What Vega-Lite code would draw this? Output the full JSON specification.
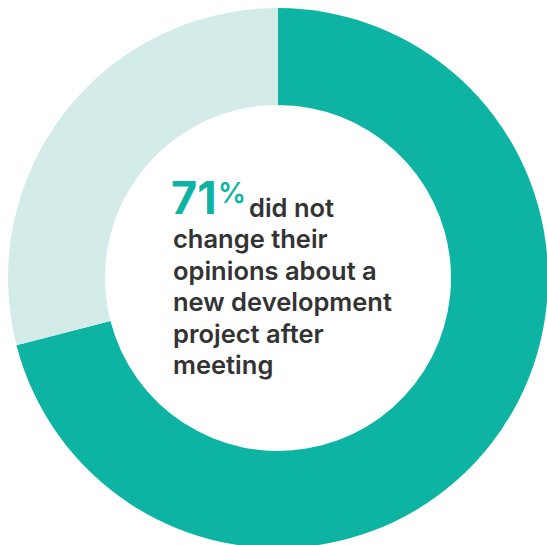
{
  "$schema": "https://vega.github.io/schema/vega-lite/v6.json",
  "width": 556,
  "height": 556,
  "padding": 0,
  "autosize": "none",
  "background": "white",
  "config": {"view": {"stroke": null}},
  "layer": [
    {
      "data": {"values": [
        {"category": "Did not change", "value": 71, "order": 1},
        {"category": "Changed", "value": 29, "order": 2}
      ]},
      "mark": {"type": "arc", "outerRadius": 270, "innerRadius": 173},
      "encoding": {
        "theta": {"field": "value", "type": "quantitative", "stack": true},
        "order": {"field": "order", "type": "quantitative"},
        "color": {
          "field": "category", "type": "nominal",
          "scale": {"domain": ["Did not change", "Changed"], "range": ["#0db3a3", "#d3ece9"]},
          "legend": null
        }
      }
    },
    {
      "data": {"values": [
        {"line": 0, "text": "did not", "indent": 1},
        {"line": 1, "text": "change their", "indent": 0},
        {"line": 2, "text": "opinions about a", "indent": 0},
        {"line": 3, "text": "new development", "indent": 0},
        {"line": 4, "text": "project after", "indent": 0},
        {"line": 5, "text": "meeting", "indent": 0}
      ]},
      "mark": {"type": "text", "align": "left", "baseline": "alphabetic", "font": "Inter", "fontWeight": 600, "fontSize": 25.5, "color": "#333333"},
      "encoding": {
        "y": {"field": "line", "type": "quantitative", "scale": {"domain": [0, 5], "range": [217, 374]}, "axis": null},
        "x": {"field": "indent", "type": "quantitative", "scale": {"domain": [0, 1], "range": [173, 249]}, "axis": null},
        "text": {"field": "text"}
      }
    },
    {
      "data": {"values": [{"line": 0, "indent": 0, "text": "71"}]},
      "mark": {"type": "text", "align": "left", "baseline": "alphabetic", "font": "Inter", "fontWeight": 700, "fontSize": 45, "color": "#0db3a3", "dx": -2, "dy": -3},
      "encoding": {
        "y": {"field": "line", "type": "quantitative", "scale": {"domain": [0, 5], "range": [217, 374]}, "axis": null},
        "x": {"field": "indent", "type": "quantitative", "scale": {"domain": [0, 1], "range": [173, 249]}, "axis": null},
        "text": {"field": "text"}
      }
    },
    {
      "data": {"values": [{"line": 0, "indent": 0, "text": "%"}]},
      "mark": {"type": "text", "align": "left", "baseline": "alphabetic", "font": "Inter", "fontWeight": 600, "fontSize": 28, "color": "#0db3a3", "dx": 45, "dy": -14},
      "encoding": {
        "y": {"field": "line", "type": "quantitative", "scale": {"domain": [0, 5], "range": [217, 374]}, "axis": null},
        "x": {"field": "indent", "type": "quantitative", "scale": {"domain": [0, 1], "range": [173, 249]}, "axis": null},
        "text": {"field": "text"}
      }
    }
  ]
}
